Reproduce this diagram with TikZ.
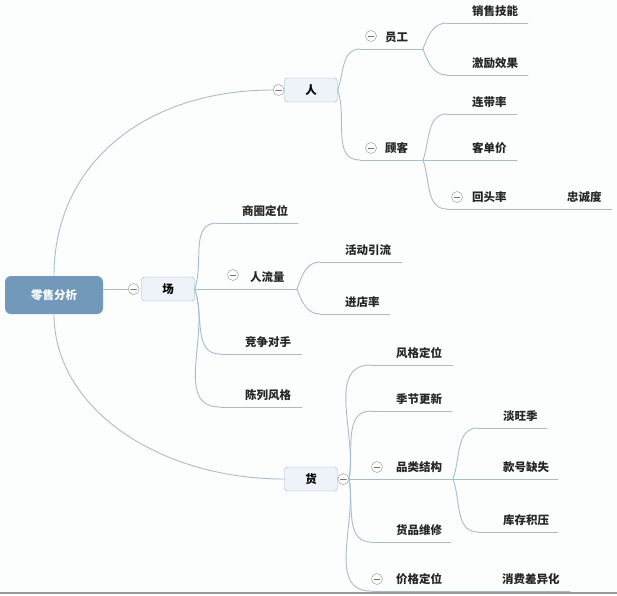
\documentclass[tikz,border=0pt]{standalone}
\usepackage{fontspec}
\setmainfont{Noto Sans CJK SC}
\usetikzlibrary{positioning}
\definecolor{linkc}{HTML}{A7BDCE}
\definecolor{boxfill}{HTML}{EDF3F8}
\definecolor{boxline}{HTML}{9CB4C7}
\definecolor{rootfill}{HTML}{7299BA}
% underlined topic: name, x start, x end, y, text
\newcommand{\topic}[5]{%
  \coordinate (#1-a) at (#2,#4); \coordinate (#1-b) at (#3,#4);
  \draw[link] (#1-a) -- (#1-b);
  \node[txt, anchor=west] (#1) at (#2+25,#4-12) {#5};}
\begin{document}
\begin{tikzpicture}[x=1pt, y=-1pt, font=\fontsize{11.5}{13}\selectfont\bfseries, line join=round, line cap=round,
  link/.style={draw=linkc, line width=0.9pt},
  toup/.style={out=70, in=180}, todown/.style={out=-70, in=180},
  txt/.style={inner sep=0pt, text=black!85},
  mainbox/.style={draw=boxline, fill=boxfill, rounded corners=3pt, minimum width=53pt, minimum height=24pt, inner sep=0pt},
  rootbox/.style={fill=rootfill, rounded corners=6pt, minimum width=98pt, minimum height=38pt, text=white},
  fold/.style={circle, draw=black!45, fill=white, minimum size=11pt, inner sep=0pt,
    path picture={\draw[black!55] ([xshift=2.5pt]path picture bounding box.west) -- ([xshift=-2.5pt]path picture bounding box.east);}}]
\fill[white!97!linkc] (0,0) rectangle (617,595);
\useasboundingbox (0,0) rectangle (617,595);
\draw[black!40, line width=1.2pt] (0,593) -- (617,593);
% main topics
\node[rootbox] (ls) at (54,295) {零售分析};
\node[mainbox] (ren) at (311,90) {人};
\node[mainbox] (chang) at (168,289) {场};
\node[mainbox] (huo) at (311,479) {货};
\node[fold, left=0pt of ren] (ren-f) {};
\node[fold, left=2pt of chang] (chang-f) {};
\node[fold, right=0pt of huo] (huo-f) {};
\draw[link] (ls.north) .. controls +(0,-112) and +(-128,0) .. (ren-f.west);
\draw[link] (ls.east |- chang-f.west) -- (chang-f.west);
\draw[link] (ls.south) .. controls +(0,93) and +(-127,0) .. (huo.west);
% 人
\topic{yuangong}{360}{423}{49}{员工}
\topic{guke}{360}{423}{160}{顾客}
\topic{xiaoshou}{447}{528}{23}{销售技能}
\topic{jili}{447}{528}{75}{激励效果}
\topic{liandai}{447}{517}{114}{连带率}
\topic{kedan}{447}{517}{160}{客单价}
\topic{huitou}{447}{532}{209}{回头率}
\topic{zhongcheng}{542}{612}{209}{忠诚度}
\node[fold] at (371,36) {}; \node[fold] at (371,148) {}; \node[fold] at (457,197) {};
\draw[link] (ren.east) to[toup] (yuangong-a);
\draw[link] (ren.east) to[todown] (guke-a);
\draw[link] (yuangong-b) to[toup] (xiaoshou-a);
\draw[link] (yuangong-b) to[todown] (jili-a);
\draw[link] (guke-b) to[toup] (liandai-a);
\draw[link] (guke-b) -- (kedan-a);
\draw[link] (guke-b) to[todown] (huitou-a);
\draw[link] (huitou-b) -- (zhongcheng-a);
% 场
\topic{shangquan}{217}{298}{223}{商圈定位}
\topic{renliu}{225}{297}{289}{人流量}
\topic{jingzheng}{220}{302}{354}{竞争对手}
\topic{chenlie}{220}{302}{407}{陈列风格}
\topic{huodong}{320}{402}{262}{活动引流}
\topic{jindian}{320}{390}{314}{进店率}
\node[fold] at (233,275) {};
\draw[link] (chang.east) to[toup] (shangquan-a);
\draw[link] (chang.east) -- (renliu-a);
\draw[link] (chang.east) to[todown] (jingzheng-a);
\draw[link] (chang.east) to[todown] (chenlie-a);
\draw[link] (renliu-b) to[toup] (huodong-a);
\draw[link] (renliu-b) to[todown] (jindian-a);
% 货
\topic{fengge}{371}{453}{365}{风格定位}
\topic{jijie}{371}{452}{411}{季节更新}
\topic{pinlei}{371}{453}{479}{品类结构}
\topic{weixiu}{371}{451}{542}{货品维修}
\topic{jiage}{371}{465}{591}{价格定位}
\topic{danwang}{478}{547}{428}{淡旺季}
\topic{kuanhao}{478}{558}{479}{款号缺失}
\topic{kucun}{478}{558}{532}{库存积压}
\topic{xiaofei}{477}{570}{591}{消费差异化}
\node[fold] at (377,467) {}; \node[fold] at (377,579) {};
\draw[link] (huo-f.east) to[out=80, in=180] (fengge-a);
\draw[link] (huo-f.east) to[out=80, in=180] (jijie-a);
\draw[link] (huo-f.east) -- (pinlei-a);
\draw[link] (huo-f.east) to[out=-80, in=180] (weixiu-a);
\draw[link] (huo-f.east) to[out=-80, in=180] (jiage-a);
\draw[link] (pinlei-b) to[toup] (danwang-a);
\draw[link] (pinlei-b) -- (kuanhao-a);
\draw[link] (pinlei-b) to[todown] (kucun-a);
\draw[link] (jiage-b) -- (xiaofei-a);
\end{tikzpicture}
\end{document}
